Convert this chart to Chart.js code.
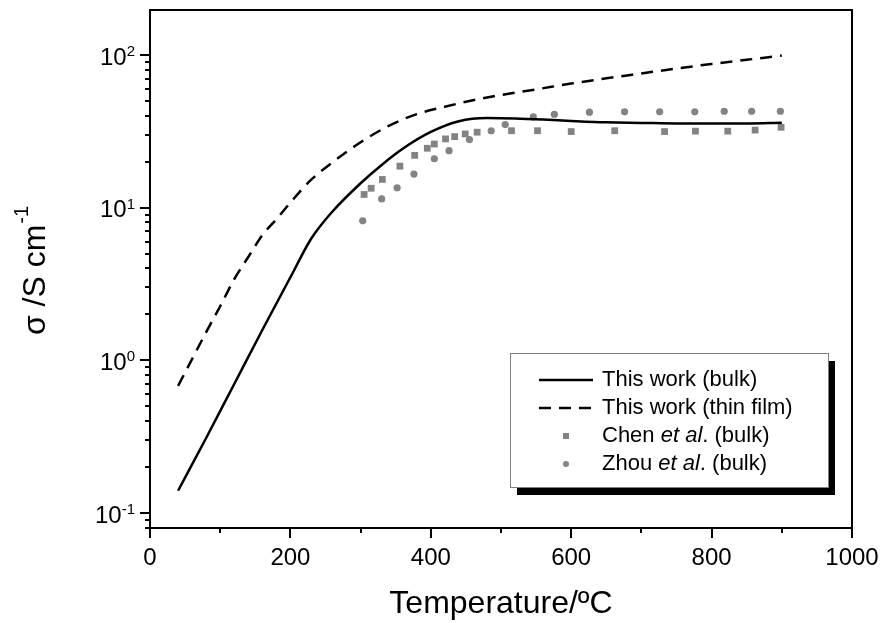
<!DOCTYPE html>
<html>
<head>
<meta charset="utf-8">
<script src="https://cdn.jsdelivr.net/npm/chart.js@4/dist/chart.umd.min.js"></script>
<style>
  html, body { margin: 0; padding: 0; background: #fff; }
  canvas { display: block; }
</style>
</head>
<body>
<canvas id="sigmaChart" width="882" height="623"></canvas>
<script>
// Values (temperature in ºC, sigma in S/cm)
const bulkT = [40, 80, 120, 160, 200, 230, 260, 300, 330, 360, 400, 440, 480, 520, 560, 600, 650, 700, 750, 800, 850, 900];
const bulkSigma = [0.14, 0.31, 0.70, 1.58, 3.5, 6.3, 9.44, 14.45, 19.05, 24.3, 31.3, 36.8, 38.6, 38.4, 37.8, 37.0, 36.2, 35.9, 35.6, 35.6, 35.6, 36.0];

const filmT = [40, 60, 80, 100, 120, 140, 160, 180, 200, 230, 260, 300, 340, 380, 420, 460, 500, 550, 600, 650, 700, 750, 800, 850, 900];
const filmSigma = [0.68, 1.02, 1.53, 2.26, 3.4, 4.75, 6.6, 8.4, 10.8, 15.3, 19.8, 26.8, 34.3, 41, 45.8, 50.5, 54.7, 59.5, 65, 70.3, 75.7, 81.5, 87.3, 93, 99];

const chenT = [305, 315, 331, 356, 377, 395, 405, 421, 434, 449, 466, 515, 552, 600, 662, 733, 777, 823, 862, 899];
const chenSigma = [12.2, 13.4, 15.3, 18.7, 22.0, 24.5, 26.1, 28.2, 29.2, 30.4, 31.2, 31.9, 31.9, 31.5, 31.9, 31.5, 31.7, 31.7, 32.2, 33.6];

const zhouT = [303, 330, 352, 376, 405, 426, 455, 486, 506, 546, 576, 626, 676, 726, 776, 818, 857, 898];
const zhouSigma = [8.2, 11.4, 13.5, 16.6, 20.9, 23.6, 27.9, 31.9, 35.0, 39.3, 40.9, 42.2, 42.4, 42.4, 42.4, 42.8, 42.8, 42.8];

const xMajorTicks = [0, 200, 400, 600, 800, 1000];
const xMinorTicks = [100, 300, 500, 700, 900];
const yMajorTicks = [0.1, 1, 10, 100];
const yTickExponents = ['-1', '0', '1', '2'];

const legendRows = [
    [['This work (bulk)', false]],
    [['This work (thin film)', false]],
    [['Chen ', false], ['et al', true], ['. (bulk)', false]],
    [['Zhou ', false], ['et al', true], ['. (bulk)', false]]
];

const FONT = "'Liberation Sans', Arial, sans-serif";
const GREY = '#838383';

function toPoints(xs, ys) {
    return xs.map((t, i) => ({ x: t, y: ys[i] }));
}

// Origin-style frame, ticks, labels, titles and shadowed legend
const originAxes = {
    id: 'originAxes',
    afterDraw(chart) {
        const { ctx, chartArea: a, scales: { x, y } } = chart;
        ctx.save();

        ctx.strokeStyle = '#000';
        ctx.lineWidth = 2;
        ctx.strokeRect(a.left, a.top, a.right - a.left, a.bottom - a.top);

        ctx.beginPath();
        xMajorTicks.concat(xMinorTicks).forEach(v => {
            const px = Math.round(x.getPixelForValue(v));
            const len = xMajorTicks.includes(v) ? 10 : 5;
            ctx.moveTo(px, a.bottom);
            ctx.lineTo(px, a.bottom + len);
        });
        for (let e = -2; e <= 2; e++) {
            for (let m = 1; m <= 9; m++) {
                const v = m * Math.pow(10, e);
                if (v < y.min * 0.999 || v > y.max) continue;
                const py = Math.round(y.getPixelForValue(v));
                ctx.moveTo(a.left, py);
                ctx.lineTo(a.left - (m === 1 ? 10 : 5), py);
            }
        }
        ctx.stroke();

        // tick labels
        ctx.fillStyle = '#000';
        ctx.font = '24px ' + FONT;
        ctx.textAlign = 'center';
        ctx.textBaseline = 'middle';
        xMajorTicks.forEach(v => ctx.fillText(String(v), x.getPixelForValue(v), a.bottom + 30));

        ctx.textAlign = 'right';
        yMajorTicks.forEach((v, i) => {
            const py = y.getPixelForValue(v);
            ctx.font = '15px ' + FONT;
            ctx.textBaseline = 'alphabetic';
            const expW = ctx.measureText(yTickExponents[i]).width;
            ctx.fillText(yTickExponents[i], 135, py + 1);
            ctx.font = '24px ' + FONT;
            ctx.textBaseline = 'middle';
            ctx.fillText('10', 135 - expW, py + 3);
        });

        // axis titles
        ctx.textAlign = 'center';
        ctx.font = '32px ' + FONT;
        ctx.fillText('Temperature/ºC', (a.left + a.right) / 2, 604);

        ctx.save();
        ctx.translate(36, 271);
        ctx.rotate(-Math.PI / 2);
        ctx.textAlign = 'left';
        ctx.font = '32px ' + FONT;
        const mainW = ctx.measureText('σ /S cm').width;
        ctx.font = '20px ' + FONT;
        const supW = ctx.measureText('-1').width;
        const x0 = -(mainW + supW) / 2;
        ctx.font = '32px ' + FONT;
        ctx.fillText('σ /S cm', x0, 0);
        ctx.font = '20px ' + FONT;
        ctx.fillText('-1', x0 + mainW + 1, -14);
        ctx.restore();

        // legend
        const box = { x: 510, y: 353, w: 318, h: 134 };
        ctx.fillStyle = '#000';
        ctx.fillRect(box.x + 7, box.y + 8, box.w, box.h);
        ctx.fillStyle = '#fff';
        ctx.fillRect(box.x, box.y, box.w, box.h);
        ctx.strokeStyle = '#808080';
        ctx.lineWidth = 1;
        ctx.strokeRect(box.x + 0.5, box.y + 0.5, box.w, box.h);

        chart.data.datasets.forEach((ds, i) => {
            const cy = 380 + i * 28;
            if (ds.showLine !== false) {
                ctx.strokeStyle = ds.borderColor;
                ctx.lineWidth = ds.borderWidth;
                ctx.setLineDash(ds.borderDash || []);
                ctx.beginPath();
                ctx.moveTo(539, cy);
                ctx.lineTo(593, cy);
                ctx.stroke();
                ctx.setLineDash([]);
            } else {
                ctx.fillStyle = ds.backgroundColor;
                ctx.beginPath();
                if (ds.pointStyle === 'rect') ctx.rect(563, cy - 3, 6, 6);
                else ctx.arc(566, cy, 3, 0, Math.PI * 2);
                ctx.fill();
            }
            ctx.fillStyle = '#000';
            ctx.textAlign = 'left';
            ctx.textBaseline = 'middle';
            let tx = 602;
            legendRows[i].forEach(([txt, italic]) => {
                ctx.font = (italic ? 'italic ' : '') + '22px ' + FONT;
                ctx.fillText(txt, tx, cy);
                tx += ctx.measureText(txt).width;
            });
        });

        ctx.restore();
    }
};

new Chart(document.getElementById('sigmaChart'), {
    type: 'line',
    data: {
        datasets: [
            {
                label: 'This work (bulk)',
                data: toPoints(bulkT, bulkSigma),
                borderColor: '#000',
                borderWidth: 2.5,
                pointRadius: 0,
                cubicInterpolationMode: 'monotone'
            },
            {
                label: 'This work (thin film)',
                data: toPoints(filmT, filmSigma),
                borderColor: '#000',
                borderWidth: 2.5,
                borderDash: [12, 8],
                pointRadius: 0,
                cubicInterpolationMode: 'monotone'
            },
            {
                label: 'Chen et al. (bulk)',
                data: toPoints(chenT, chenSigma),
                showLine: false,
                pointStyle: 'rect',
                pointRadius: 4.8,
                pointBorderWidth: 0,
                backgroundColor: GREY,
                pointBackgroundColor: GREY
            },
            {
                label: 'Zhou et al. (bulk)',
                data: toPoints(zhouT, zhouSigma),
                showLine: false,
                pointStyle: 'circle',
                pointRadius: 3.6,
                pointBorderWidth: 0,
                backgroundColor: GREY,
                pointBackgroundColor: GREY
            }
        ]
    },
    options: {
        responsive: false,
        animation: false,
        layout: { padding: { left: 150, right: 30, top: 10, bottom: 95 } },
        plugins: { legend: { display: false }, tooltip: { enabled: false } },
        scales: {
            x: {
                type: 'linear',
                min: 0,
                max: 1000,
                grid: { display: false },
                border: { display: false },
                ticks: { display: false },
                afterFit: s => { s.height = 0; }
            },
            y: {
                type: 'logarithmic',
                min: 0.0798,
                max: 197,
                grid: { display: false },
                border: { display: false },
                ticks: { display: false },
                afterFit: s => { s.width = 0; }
            }
        }
    },
    plugins: [originAxes]
});
</script>
</body>
</html>
